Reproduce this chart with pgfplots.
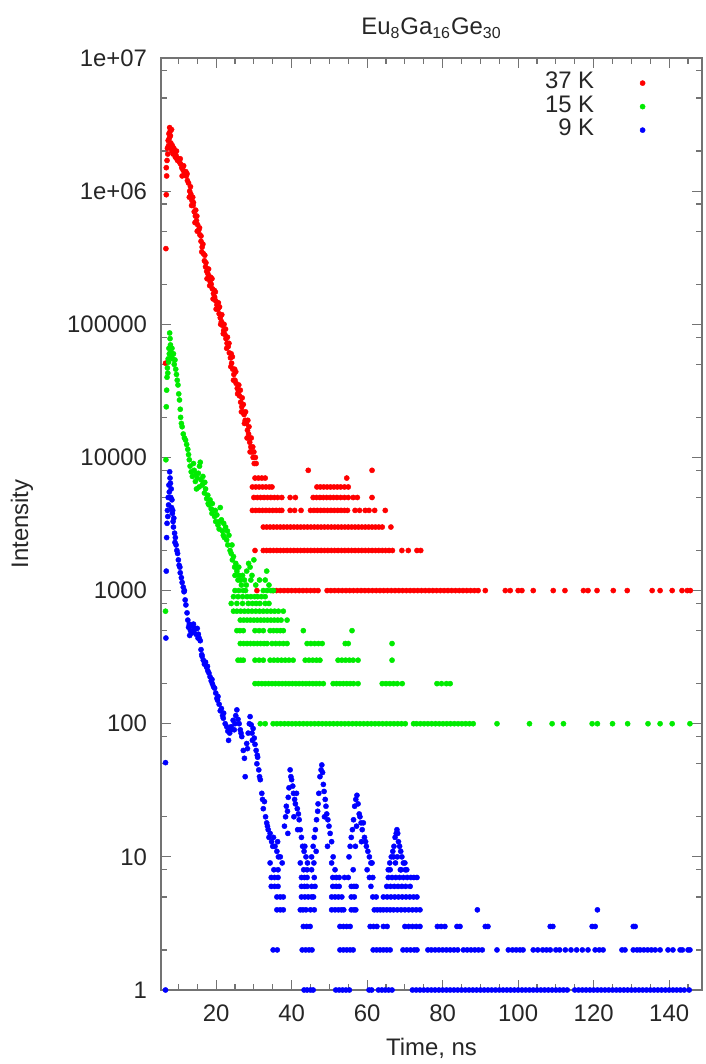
\documentclass[border=0pt]{standalone}
\usepackage{fontspec}
\setmainfont{Liberation Sans}
\usepackage{pgfplots}
\pgfplotsset{compat=1.18}

\definecolor{gpred}{RGB}{255,0,0}
\definecolor{gpgreen}{RGB}{0,235,0}
\definecolor{gpblue}{RGB}{0,0,255}
\newcommand{\lblfont}{\fontsize{12}{14}\selectfont}

\pgfplotsset{
	dot/.style={only marks, mark=*, mark size=1.3bp, mark options={line width=0.2bp}},
}

\begin{document}
\begin{tikzpicture}
	\begin{axis}[
		scale only axis,
		width=270.5bp, height=466bp,
		xmin=5.4, xmax=148.7,
		ymode=log, ymin=1, ymax=1e7,
		clip=false,
		xtick={20,40,60,80,100,120,140},
		xticklabels={20,40,60,80,100,120,140},
		minor xtick={10,15,...,145},
		ytick={1,10,100,1000,10000,100000,1000000,10000000},
		yticklabels={1,10,100,1000,10000,100000,1e+06,1e+07},
		minor ytick={2,5,8,20,50,80,200,500,800,2000,5000,8000,20000,50000,80000,200000,500000,800000,2000000,5000000,8000000},
		xtick pos=both, ytick pos=both,
		tick align=inside,
		major tick length=5bp, minor tick length=3bp,
		axis line style={black!55, line width=0.75bp},
		tick style={black!55, line width=0.6bp},
		tick label style={font=\lblfont, text=black!85},
		xticklabel style={yshift=-4bp},
		yticklabel style={xshift=-3.5bp},
		title={Eu\textsubscript{8}Ga\textsubscript{16}Ge\textsubscript{30}},
		every axis title/.style={at={(axis description cs:0.5,1)}, anchor=base, yshift=11.5bp, font=\lblfont, text=black!85},
		xlabel={Time, ns},
		every axis x label/.style={at={(axis description cs:0.5,0)}, anchor=base, yshift=-32.5bp, font=\lblfont, text=black!85},
		ylabel={Intensity},
		every axis y label/.style={at={(axis description cs:-0.2458,0.5)}, anchor=base, rotate=90, font=\lblfont, text=black!85},
		legend style={at={(axis description cs:1,1)}, anchor=north east, xshift=-21.5bp, yshift=-6.7bp,
			draw=none, fill=none, inner sep=0pt, outer sep=0pt, column sep=16bp, row sep=0pt,
			nodes={inner sep=0pt, text height=8.6bp, text depth=3.15bp, font=\lblfont, text=black!85}},
		legend cell align=right,
		legend plot pos=right,
		legend image code/.code={
			\path (0bp,0bp) (16bp,0bp);
			\draw[mark repeat=2,mark phase=2,#1] plot coordinates {(0bp,0bp) (8bp,0bp) (16bp,0bp)};
		},
		]

		% 37 K
		\addplot[dot, color=gpred] coordinates {
			(6.6,51000)(6.7,370000)(6.8,940000)(6.9,1300000)(6.8,1500000)(7.0,1700000)(7.1,2100000)(7.2,1900000)(7.3,2400000)(7.4,2200000)(7.5,2700000)(7.6,2500000)(7.7,3000000)(7.8,2800000)(7.9,2600000)(8.0,2300000)(8.1,2100000)(8.2,2900000)(8.3,2000000)(8.4,2200000)(8.6,1900000)(8.8,2100000)(9.0,1950000)(9.2,1800000)(9.4,1850000)(9.6,1750000)(9.8,1700000)(10.0,1750000)
			(10.3,1650000)(10.6,1600000)(10.9,1500000)(11.2,1450000)(11.5,1400000)(11.8,1350000)(12.1,1300000)(12.4,1200000)(12.7,1150000)(13.0,1000000)(13.3,950000)(13.6,850000)(13.9,780000)(14.2,700000)(14.5,650000)(14.8,600000)(15.1,560000)(15.4,510000)(15.7,470000)(16.0,420000)(16.3,380000)(16.6,340000)(16.9,300000)(17.2,270000)(17.5,250000)(17.8,240000)(18.1,230000)(18.4,210000)(18.7,200000)(19.0,185000)
			(19.3,170000)(19.6,160000)(19.9,150000)(20.2,140000)(20.5,130000)(20.8,120000)(21.1,112000)(21.4,105000)(21.7,98000)(22.0,90000)(22.3,84000)(22.6,78000)(22.9,72000)(23.2,68000)(23.5,61000)(23.8,56000)(24.1,51000)(24.4,46000)(24.7,42000)(25.0,38000)(25.3,36000)(25.6,33000)(25.9,31000)(26.2,29000)(26.5,26000)(26.8,24000)(27.1,22000)(27.4,21000)(27.7,19000)(28.0,18000)(28.3,16000)(28.6,15000)(28.9,13000)(29.2,12000)(29.5,11000)(29.8,10000)(30.1,9000)
			(11.0,1300000)(12.0,1400000)(13.2,1080000)(14.0,820000)(14.6,720000)(15.6,530000)(16.5,400000)(17.0,330000)(18.0,260000)(18.9,220000)(19.8,175000)(20.6,145000)(21.5,118000)(22.5,92000)(23.4,72000)(24.3,57000)(25.2,44000)(26.0,35000)(26.9,28000)(27.8,22000)(28.7,17000)(29.3,14000)(29.7,12000)(30.0,11000)
			(13.5,780000)(15.0,500000)(16.2,350000)(18.3,195000)(20.0,130000)(21.9,85000)(23.9,48000)(25.7,30000)(27.5,18000)(29.0,11000)(30.4,10000)(30.6,9000)
			(9.5,2000000)(10.5,1750000)(11.4,1550000)(12.3,1350000)(13.8,900000)(14.9,650000)(16.0,460000)(17.3,290000)(18.6,225000)(19.5,180000)(20.9,135000)(22.1,100000)(23.0,80000)(24.0,60000)(24.9,46000)(26.4,32000)(27.2,25000)(28.4,19000)
			(12.9,900000)(14.4,580000)(17.6,220000)(19.2,155000)(21.2,100000)(22.8,66000)(24.6,38000)(26.7,22000)(28.2,14000)
			(44.4,8000)(61.3,8000)
			(30.3,7000)(31.2,7000)(32.1,7000)(33.0,7000)(54.6,7000)
			(29.6,6000)(30.5,6000)(31.4,6000)(32.3,6000)(33.2,6000)(34.1,6000)(34.8,6000)(46.7,6000)(47.6,6000)(48.5,6000)(49.4,6000)(50.3,6000)(51.2,6000)(52.1,6000)(53.0,6000)(54.0,6000)(55.0,6000)
			(30.0,5000)(30.9,5000)(31.8,5000)(32.7,5000)(33.6,5000)(34.5,5000)(35.4,5000)(36.3,5000)(37.4,5000)(39.6,5000)(41.0,5000)(45.7,5000)(46.6,5000)(47.5,5000)(48.4,5000)(49.3,5000)(50.2,5000)(51.1,5000)(52.0,5000)(53.0,5000)(54.0,5000)(55.0,5000)(56.3,5000)(57.4,5000)(61.3,5000)
			(29.6,4000)(30.5,4000)(31.4,4000)(32.3,4000)(33.2,4000)(34.1,4000)(35.0,4000)(35.9,4000)(36.8,4000)(37.4,4000)(39.6,4000)(40.8,4000)(42.5,4000)(45.0,4000)(45.9,4000)(46.8,4000)(47.7,4000)(48.6,4000)(49.5,4000)(50.4,4000)(51.3,4000)(52.2,4000)(53.1,4000)(54.0,4000)(54.8,4000)(56.8,4000)(58.0,4000)(59.5,4000)(60.5,4000)(62.0,4000)(64.8,4000)
			(32.5,3000)(33.4,3000)(34.3,3000)(35.2,3000)(36.1,3000)(37.0,3000)(37.9,3000)(38.8,3000)(39.7,3000)(40.6,3000)(41.5,3000)(42.4,3000)(43.3,3000)(44.2,3000)(45.1,3000)(46.0,3000)(46.9,3000)(47.8,3000)(48.7,3000)(49.6,3000)(50.5,3000)(51.4,3000)(52.3,3000)(53.2,3000)(54.1,3000)(55.0,3000)(55.9,3000)(56.8,3000)(57.7,3000)(58.6,3000)(59.5,3000)(60.4,3000)(61.3,3000)(62.2,3000)(63.1,3000)(64.0,3000)(66.3,3000)
			(30.3,2000)(32.5,2000)(33.4,2000)(34.3,2000)(35.2,2000)(36.1,2000)(37.0,2000)(37.9,2000)(38.8,2000)(39.7,2000)(40.6,2000)(41.5,2000)(42.4,2000)(43.3,2000)(44.2,2000)(45.1,2000)(46.0,2000)(46.9,2000)(47.8,2000)(48.7,2000)(49.6,2000)(50.5,2000)(51.4,2000)(52.3,2000)(53.2,2000)(54.1,2000)(55.0,2000)(55.9,2000)(56.8,2000)(57.7,2000)(58.6,2000)(59.5,2000)(60.4,2000)(61.3,2000)(62.2,2000)(63.1,2000)(64.0,2000)(64.9,2000)(65.8,2000)(66.7,2000)(69.2,2000)(70.9,2000)(73.2,2000)(74.2,2000)
			(30.8,1000)(35.0,1000)(36.0,1000)(37.0,1000)(38.0,1000)(39.0,1000)(40.0,1000)(41.0,1000)(42.0,1000)(43.0,1000)(44.0,1000)(45.0,1000)(46.0,1000)(47.0,1000)
			(49.4,1000)(50.4,1000)(51.4,1000)(52.4,1000)(53.4,1000)(54.4,1000)(55.4,1000)(56.4,1000)(57.4,1000)(58.4,1000)(59.4,1000)(60.4,1000)(61.4,1000)(62.4,1000)(63.4,1000)(64.4,1000)(65.4,1000)(66.4,1000)(67.4,1000)(68.4,1000)(69.4,1000)(70.4,1000)(71.4,1000)(72.4,1000)(73.4,1000)(74.4,1000)(75.4,1000)(76.4,1000)(77.4,1000)(78.4,1000)(79.4,1000)(80.4,1000)(81.4,1000)(82.4,1000)(83.4,1000)(84.4,1000)(85.4,1000)(86.4,1000)(87.4,1000)(88.4,1000)(89.4,1000)
			(91.3,1000)(96.6,1000)(97.9,1000)(100.0,1000)(101.0,1000)(104.0,1000)(109.3,1000)(112.4,1000)(117.3,1000)(118.5,1000)(120.9,1000)(125.2,1000)(128.9,1000)(135.5,1000)(137.6,1000)(140.8,1000)(143.4,1000)(144.8,1000)(145.6,1000)
		};
		\addlegendentry{37 K}

		% 15 K
		\addplot[dot, color=gpgreen] coordinates {
			(6.6,700)(6.7,9600)(6.8,24000)(6.9,32000)(7.0,40000)(7.1,47000)(7.2,43000)(7.3,55000)(7.4,52000)(7.5,66000)(7.6,60000)(7.7,86000)(7.8,78000)(7.9,70000)(8.0,62000)(8.2,57000)(8.3,66000)(8.5,55000)(8.7,60000)(8.9,50000)(9.1,54000)(9.3,46000)(9.5,42000)(9.7,38000)(9.9,35000)(10.1,30000)(10.3,27000)(10.5,23000)(10.6,20000)(10.8,18000)(11.0,17000)(11.3,15000)(11.6,14000)(11.9,13500)(12.2,12500)(12.5,11500)(12.7,10500)(12.9,9600)
			(13.1,8600)(13.4,7800)(13.7,7200)(14.0,9000)(14.2,8000)(14.5,6600)(14.8,5800)(15.0,7000)(15.3,7600)(15.6,8600)(15.8,9200)(16.0,6800)(16.3,6200)(16.6,6400)(16.9,5400)(17.2,5800)(17.5,4900)(17.8,5200)(18.1,4400)(18.4,4800)(18.7,4100)(19.0,4500)(19.3,4000)(19.6,3600)(19.9,3300)(20.2,3700)(20.5,3100)(20.8,2900)(21.1,4200)(21.4,3400)(21.7,2800)(21.9,2600)(22.2,2500)(22.5,3000)(22.8,2400)(23.1,2200)(23.4,2600)(23.7,2000)(24.0,1900)(24.3,1700)(24.6,1800)(24.9,1500)(25.2,1600)(25.5,1400)(25.8,1200)(26.1,1300)(26.4,1200)(26.7,1100)(27.0,1300)(27.5,1200)(28.1,1400)(28.6,1600)(29.0,1500)(29.5,1300)(30.0,1700)(30.5,1100)(31.5,1200)(33.0,1200)(33.4,1400)(34.0,1100)
			(14.6,7500)(15.5,6000)(16.5,7200)(17.0,6500)(17.9,4500)(18.9,3800)(19.8,4000)(20.9,3300)(22.0,3200)(23.0,2800)(24.2,2200)(25.0,1300)(26.0,1500)(27.2,1000)(28.0,1100)(29.2,1200)
			(25.0,1000)(26.0,1000)(27.8,1000)(32.5,1000)(33.5,1000)(34.5,1000)(35.2,1000)
			(24.6,900)(25.8,900)(27.0,900)(28.2,900)(29.2,900)(30.2,900)(31.0,900)(32.0,900)(33.0,900)
			(24.0,800)(25.5,800)(27.0,800)(28.5,800)(29.6,800)(30.6,800)(31.6,800)(33.0,800)(34.0,800)
			(24.6,700)(25.5,700)(26.5,700)(27.5,700)(28.5,700)(29.5,700)(30.5,700)(31.5,700)(32.5,700)(33.5,700)(34.5,700)(35.5,700)(36.5,700)(37.8,700)
			(26.4,600)(27.3,600)(28.2,600)(29.1,600)(30.0,600)(30.9,600)(31.8,600)(32.7,600)(33.6,600)(34.5,600)(35.4,600)(36.3,600)(37.2,600)(38.8,600)
			(25.5,500)(26.3,500)(27.2,500)(30.3,500)(31.4,500)(32.5,500)(34.3,500)(35.2,500)(36.1,500)(37.0,500)(37.8,500)(43.1,500)(56.0,500)
			(26.4,400)(27.3,400)(28.2,400)(29.1,400)(30.0,400)(30.9,400)(31.8,400)(32.7,400)(33.5,400)(34.8,400)(35.8,400)(36.8,400)(37.8,400)(38.8,400)(44.1,400)(45.1,400)(46.1,400)(47.1,400)(48.1,400)(54.2,400)(55.0,400)(66.6,400)
			(25.8,300)(26.5,300)(27.2,300)(30.3,300)(31.4,300)(32.5,300)(34.3,300)(35.3,300)(36.3,300)(37.3,300)(38.3,300)(39.3,300)(40.4,300)(43.6,300)(44.6,300)(45.6,300)(46.6,300)(47.5,300)(52.3,300)(53.3,300)(54.3,300)(55.3,300)(56.3,300)(57.6,300)(66.6,300)
			(30.3,200)(31.2,200)(32.1,200)(33.0,200)(33.9,200)(34.8,200)(35.7,200)(36.6,200)(37.5,200)(38.4,200)(39.3,200)(40.2,200)(41.1,200)(42.0,200)(42.9,200)(43.8,200)(44.7,200)(45.6,200)(46.5,200)(47.4,200)(48.4,200)(51.0,200)(51.9,200)(52.8,200)(53.7,200)(54.6,200)(55.5,200)(56.4,200)(57.6,200)(64.0,200)(65.0,200)(66.0,200)(67.0,200)(68.0,200)(69.3,200)(78.5,200)(79.7,200)(81.0,200)(82.0,200)
			(31.7,100)(33.0,100)(35.1,100)(36.1,100)(37.1,100)(38.1,100)(39.1,100)(40.1,100)(41.1,100)(42.1,100)(43.1,100)(44.1,100)(45.1,100)(46.1,100)(47.1,100)(48.1,100)(49.1,100)(50.1,100)(51.1,100)(52.1,100)(53.1,100)(54.1,100)(55.1,100)(56.1,100)(57.1,100)(58.1,100)(59.1,100)(60.1,100)(61.1,100)(62.1,100)(63.1,100)(64.1,100)(65.1,100)(66.1,100)(67.1,100)(68.1,100)(69.1,100)(70.1,100)
			(72.3,100)(73.1,100)(74.1,100)(75.1,100)(76.1,100)(77.1,100)(78.1,100)(79.1,100)(80.1,100)(81.1,100)(82.1,100)(83.1,100)(84.1,100)(85.1,100)(86.1,100)(87.1,100)(88.1,100)
			(94.4,100)(103.0,100)(109.0,100)(112.0,100)(119.6,100)(121.0,100)(125.0,100)(129.0,100)(134.4,100)(137.6,100)(140.8,100)(145.5,100)
		};
		\addlegendentry{15 K}

		% 9 K
		\addplot[dot, color=gpblue] coordinates {
			(6.6,1)(6.6,51)(6.7,440)(6.8,1400)(6.9,2500)(7.0,3200)(7.1,4000)(7.2,3600)(7.3,5000)(7.4,4400)(7.5,6200)(7.6,5500)(7.7,7800)(7.8,7000)(7.9,6400)(8.0,5000)(8.1,5800)(8.2,4200)(8.3,4800)(8.4,3800)(8.5,4000)(8.6,3300)(8.7,3000)(8.8,3500)(9.0,2700)(9.2,2500)(9.4,2200)(9.6,2000)(9.8,1900)(10.0,1700)(10.2,1550)(10.5,1360)(10.8,1250)(11.0,1150)(11.3,1060)(11.5,980)(11.8,850)(12.0,780)(12.3,680)(12.5,600)(12.7,530)(12.9,560)
			(13.2,500)(13.5,480)(13.8,540)(14.1,500)(14.4,520)(14.7,470)(15.0,520)(15.3,470)(15.5,440)(15.8,420)(16.0,360)(16.3,320)(16.6,300)(16.9,280)(17.2,290)(17.5,265)(17.8,250)(18.1,240)(18.4,225)(18.7,210)(19.0,200)(19.3,190)(19.6,185)(19.9,170)(20.2,155)(20.5,160)(20.8,140)(21.1,125)(21.4,130)(21.7,115)(22.0,120)(22.4,100)(22.8,95)(23.1,88)(23.3,75)(23.6,85)(24.0,95)(24.5,106)(24.8,90)(25.2,115)(25.5,127)(25.8,108)(26.1,100)(26.4,90)(26.8,80)(27.2,63)(27.5,55)(27.7,40)
			(28.1,71)(28.5,85)(28.8,100)(29.0,113)(29.3,98)(29.5,85)(29.8,92)(30.1,78)(30.3,70)(30.6,63)(30.8,50)(31.0,56)(31.3,45)(31.7,38)(32.1,30)(32.5,23)(32.8,26)(33.1,20)(33.4,18)(33.8,16)(34.3,15)(34.7,13)(35.2,14)(35.6,12)(36.1,11)(36.5,10)(37.0,10)(37.5,9)
			(9.1,2300)(10.4,1500)(11.6,1000)(13.0,460)(14.0,560)(15.2,440)(16.2,330)(17.7,270)(18.9,215)(20.4,150)(21.9,110)(23.8,90)(25.0,100)(26.6,85)(28.3,65)(29.6,75)(30.9,58)(31.5,40)(32.3,27)(33.6,17)(34.0,14)(35.0,12)(36.3,13)
			(38.1,17)(38.4,20)(38.6,24)(38.9,22)(39.1,28)(39.3,33)(39.6,45)(39.8,40)(40.0,38)(40.3,34)(40.5,30)(40.8,27)(41.0,25)(41.3,30)(41.5,23)(41.8,21)(42.0,19)(42.3,16)(42.6,14)(42.9,12)(43.3,11)(43.8,10)(44.2,9)(39.0,15)(40.6,20)(41.6,16)(43.5,12)
			(45.3,10)(45.7,12)(46.0,14)(46.3,16)(46.6,19)(46.9,22)(47.2,30)(47.5,40)(47.8,45)(48.0,49)(48.2,43)(48.4,35)(48.6,31)(48.9,27)(49.1,24)(49.3,21)(49.6,19)(49.9,17)(50.2,15)(50.6,13)(51.0,10)(47.0,25)(48.7,20)(46.5,11)(49.5,12)(45.9,9)
			(55.2,10)(55.5,12)(55.8,14)(56.1,16)(56.4,19)(56.7,24)(57.0,27)(57.3,29)(57.6,25)(57.9,21)(58.1,20)(58.4,18)(58.7,16)(59.0,18)(59.3,14)(59.6,13)(59.8,12)(60.2,11)(60.6,10)(61.0,9)(57.2,17)(58.5,13)(56.9,12)
			(65.6,8)(66.0,9)(66.4,10)(66.8,11)(67.1,12)(67.4,14)(67.7,15)(67.9,16)(68.1,15)(68.3,13)(68.6,12)(68.9,11)(69.2,10)(69.6,9)(70.0,9)(70.5,8)(67.0,10)(68.0,10)(69.0,8)
			(34.3,9)(35.3,8)(36.4,8)(42.3,9)(43.2,8)(44.1,8)(45.3,8)(50.6,9)(51.5,8)(56.3,8)(60.0,8)(61.3,9)(66.1,8)(67.5,9)(68.8,8)(70.1,8)
			(34.6,7)(35.5,7)(36.4,7)(42.6,7)(43.4,7)(44.1,7)(46.0,7)(50.9,7)(51.8,7)(52.6,7)(54.0,7)(55.0,7)(60.6,7)(61.5,7)(65.6,7)(66.6,7)(67.6,7)(68.6,7)(69.6,7)(70.6,7)(71.6,7)(72.4,7)(73.2,7)
			(34.6,6)(35.5,6)(36.4,6)(42.6,6)(43.4,6)(44.1,6)(45.3,6)(46.2,6)(50.9,6)(51.8,6)(52.6,6)(55.8,6)(56.5,6)(57.1,6)(61.0,6)(65.2,6)(66.2,6)(67.2,6)(68.2,6)(69.2,6)(70.2,6)(71.4,6)
			(36.1,5)(37.0,5)(37.8,5)(42.6,5)(43.5,5)(44.4,5)(45.3,5)(45.8,5)(50.6,5)(51.5,5)(52.4,5)(53.3,5)(55.8,5)(56.6,5)(61.5,5)(62.4,5)(64.3,5)(65.3,5)(66.3,5)(67.3,5)(68.3,5)(69.3,5)(70.3,5)(71.3,5)(72.3,5)(73.2,5)
			(36.1,4)(37.0,4)(37.8,4)(42.3,4)(43.0,4)(43.8,4)(45.0,4)(46.0,4)(50.6,4)(51.5,4)(52.4,4)(53.2,4)(53.8,4)(55.8,4)(56.5,4)(57.0,4)(61.9,4)(62.7,4)(63.5,4)(64.3,4)(65.2,4)(66.1,4)(67.0,4)(68.0,4)(69.0,4)(70.0,4)(71.0,4)(72.0,4)(73.0,4)(74.0,4)(89.2,4)(121.0,4)
			(43.1,3)(44.0,3)(44.9,3)(52.8,3)(53.7,3)(54.6,3)(55.5,3)(60.8,3)(61.7,3)(62.6,3)(64.3,3)(65.3,3)(70.0,3)(71.0,3)(72.0,3)(73.0,3)(74.0,3)(78.6,3)(79.6,3)(80.6,3)(83.8,3)(84.6,3)(91.3,3)(92.0,3)(108.5,3)(109.2,3)(119.6,3)(120.4,3)(130.5,3)(131.0,3)
			(35.1,2)(36.2,2)(42.8,2)(43.7,2)(44.6,2)(45.4,2)(52.8,2)(53.7,2)(54.6,2)(55.5,2)(56.3,2)(61.6,2)(62.5,2)(63.4,2)(64.3,2)(65.2,2)(66.1,2)(69.5,2)(70.5,2)(71.5,2)(72.5,2)(73.2,2)(76.1,2)(77.0,2)(78.0,2)(79.0,2)(80.0,2)(81.0,2)(82.0,2)(83.0,2)(84.0,2)(85.5,2)(86.5,2)(87.5,2)(88.5,2)(89.5,2)(90.5,2)
			(94.4,2)(97.4,2)(98.5,2)(99.5,2)(100.5,2)(101.3,2)(104.0,2)(105.2,2)(106.5,2)(107.5,2)(108.5,2)(110.0,2)(111.0,2)(112.5,2)(114.0,2)(115.5,2)(117.0,2)(118.5,2)(120.4,2)(121.5,2)(122.5,2)(127.5,2)(128.3,2)(130.5,2)(131.5,2)(132.3,2)(133.3,2)(134.3,2)(135.3,2)(136.3,2)(137.6,2)(139.7,2)(141.0,2)(142.9,2)(143.5,2)(145.0,2)(145.5,2)
			(43.3,1)(44.1,1)(45.0,1)(45.7,1)(51.7,1)(52.6,1)(53.5,1)(54.4,1)(55.3,1)(60.5,1)(61.2,1)(63.0,1)(63.9,1)(64.8,1)(65.7,1)(66.6,1)
			(72,1)(73,1)(74,1)(75,1)(76,1)(77,1)(78,1)(79,1)(80,1)(81,1)(82,1)(83,1)(84,1)(85,1)(86,1)(87,1)(88,1)(89,1)(90,1)(91,1)(92,1)(93,1)(94,1)(95,1)(96,1)(97,1)(98,1)(99,1)(100,1)(101,1)(102,1)(103,1)(104,1)(105,1)(106,1)(107,1)(108,1)(109,1)(110,1)(111,1)(112,1)(113,1)
			(115,1)(116,1)(117,1)(118,1)(119,1)(120,1)(121,1)(122,1)(123,1)(124,1)(125,1)(126,1)(127,1)(128,1)(129,1)(130,1)(131,1)(132,1)(133,1)(134,1)(135,1)(136,1)(137,1)(138,1)(139,1)(140,1)(141,1)(142,1)(143,1)(144,1)(145.3,1)
		};
		\addlegendentry{9 K}
	\end{axis}
	\pgfresetboundingbox
	\path ([shift={(-80.5bp,-37bp)}]current axis.south west) rectangle ([shift={(2bp,29bp)}]current axis.north east);
\end{tikzpicture}
\end{document}
